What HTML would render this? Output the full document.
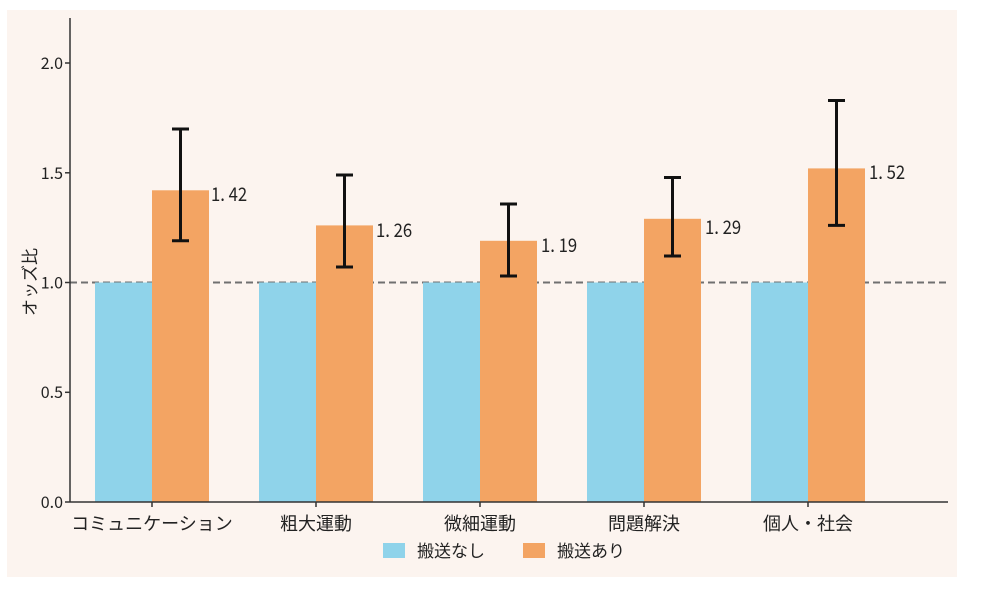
<!DOCTYPE html>
<html><head><meta charset="utf-8"><style>
body{margin:0;background:#fff}
text{font-family:"Noto Sans CJK JP","Liberation Sans",sans-serif;fill:#222}
</style></head><body>
<svg width="990" height="584" xmlns="http://www.w3.org/2000/svg">
<rect x="7" y="10" width="950" height="567" fill="#fcf4ef"/>
<line x1="70" y1="282.5" x2="948" y2="282.5" stroke="#707070" stroke-width="2" stroke-dasharray="7,4"/>
<g>
<rect x="95" y="282.5" width="57" height="219.5" fill="#8fd3ea"/>
<rect x="259" y="282.5" width="57" height="219.5" fill="#8fd3ea"/>
<rect x="423" y="282.5" width="57" height="219.5" fill="#8fd3ea"/>
<rect x="587" y="282.5" width="57" height="219.5" fill="#8fd3ea"/>
<rect x="751" y="282.5" width="57" height="219.5" fill="#8fd3ea"/>
<rect x="152" y="190.3" width="57" height="311.7" fill="#f3a463"/>
<rect x="316" y="225.4" width="57" height="276.6" fill="#f3a463"/>
<rect x="480" y="240.8" width="57" height="261.2" fill="#f3a463"/>
<rect x="644" y="218.8" width="57" height="283.2" fill="#f3a463"/>
<rect x="808" y="168.4" width="57" height="333.6" fill="#f3a463"/>
</g>
<g stroke="#111" stroke-width="3">
<line x1="180.5" y1="129" x2="180.5" y2="240.8"/><line x1="172" y1="129" x2="189" y2="129"/><line x1="172" y1="240.8" x2="189" y2="240.8"/>
<line x1="344.5" y1="175" x2="344.5" y2="267"/><line x1="336" y1="175" x2="353" y2="175"/><line x1="336" y1="267" x2="353" y2="267"/>
<line x1="508.5" y1="204" x2="508.5" y2="276"/><line x1="500" y1="204" x2="517" y2="204"/><line x1="500" y1="276" x2="517" y2="276"/>
<line x1="672.5" y1="177.5" x2="672.5" y2="256"/><line x1="664" y1="177.5" x2="681" y2="177.5"/><line x1="664" y1="256" x2="681" y2="256"/>
<line x1="836.5" y1="100.5" x2="836.5" y2="225.4"/><line x1="828" y1="100.5" x2="845" y2="100.5"/><line x1="828" y1="225.4" x2="845" y2="225.4"/>
</g>
<g font-size="19">
<text transform="translate(211,201) scale(0.88,1)">1. 42</text>
<text transform="translate(376,237) scale(0.88,1)">1. 26</text>
<text transform="translate(541,252) scale(0.88,1)">1. 19</text>
<text transform="translate(705,234) scale(0.88,1)">1. 29</text>
<text transform="translate(869,179) scale(0.88,1)">1. 52</text>
</g>
<g stroke="#333" stroke-width="1.5">
<line x1="70" y1="18" x2="70" y2="502"/>
<line x1="70" y1="502" x2="948" y2="502"/>
<line x1="65" y1="502" x2="70" y2="502"/><line x1="65" y1="392.3" x2="70" y2="392.3"/><line x1="65" y1="282.5" x2="70" y2="282.5"/><line x1="65" y1="172.8" x2="70" y2="172.8"/><line x1="65" y1="63" x2="70" y2="63"/>
<line x1="152" y1="502" x2="152" y2="507"/><line x1="316" y1="502" x2="316" y2="507"/><line x1="480" y1="502" x2="480" y2="507"/><line x1="644" y1="502" x2="644" y2="507"/><line x1="808" y1="502" x2="808" y2="507"/>
</g>
<g font-size="16" text-anchor="end">
<text x="63" y="508">0.0</text><text x="63" y="398">0.5</text><text x="63" y="288.5">1.0</text><text x="63" y="179">1.5</text><text x="63" y="69">2.0</text>
</g>
<g font-size="18" text-anchor="middle">
<text x="152" y="530">コミュニケーション</text>
<text x="316" y="530">粗大運動</text>
<text x="480" y="530">微細運動</text>
<text x="644" y="530">問題解決</text>
<text x="808" y="530">個人・社会</text>
</g>
<text transform="translate(36,282) rotate(-90)" font-size="17" text-anchor="middle">オッズ比</text>
<rect x="383" y="543" width="22" height="15" fill="#8fd3ea"/>
<text x="417" y="557" font-size="17">搬送なし</text>
<rect x="523" y="543" width="22" height="15" fill="#f3a463"/>
<text x="557" y="557" font-size="17">搬送あり</text>
</svg>
</body></html>
